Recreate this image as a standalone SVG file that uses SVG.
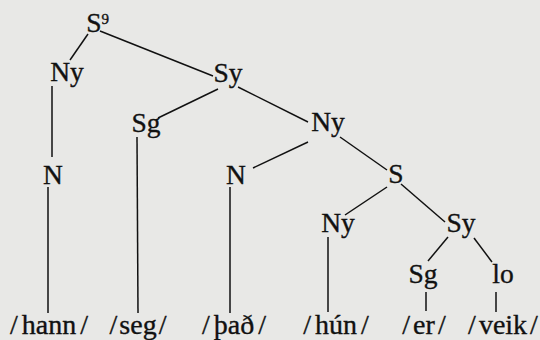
<svg xmlns="http://www.w3.org/2000/svg" width="540" height="340" viewBox="0 0 540 340">
<style>
.n,.w,.sup{font-family:"Liberation Serif","Times New Roman",serif;fill:#111;stroke:#111;stroke-width:0.35}
.n{font-size:27.5px;text-anchor:middle}
.w{font-size:28px;text-anchor:middle}
.sup{font-size:15px}
#edges line{stroke:#111;stroke-width:1.5}
</style>
<rect width="540" height="340" fill="#e8e8e6"/>
<g id="edges">
<line x1="88" y1="34" x2="70" y2="60"/>
<line x1="100" y1="31" x2="213" y2="76"/>
<line x1="52" y1="86" x2="52" y2="157"/>
<line x1="48" y1="187" x2="48" y2="313"/>
<line x1="218" y1="89" x2="158" y2="118"/>
<line x1="238" y1="87" x2="308" y2="122"/>
<line x1="137" y1="137" x2="138" y2="313"/>
<line x1="308" y1="142" x2="253" y2="168"/>
<line x1="340" y1="137" x2="387" y2="170"/>
<line x1="230" y1="187" x2="230" y2="313"/>
<line x1="387" y1="187" x2="345" y2="215"/>
<line x1="401" y1="184" x2="445" y2="222"/>
<line x1="328" y1="237" x2="328" y2="312"/>
<line x1="448" y1="237" x2="428" y2="261"/>
<line x1="474" y1="238" x2="492" y2="262"/>
<line x1="426" y1="292" x2="426" y2="311"/>
<line x1="496" y1="292" x2="496" y2="312"/>
</g>
<g id="S9"><text class="n" x="94" y="32">S</text><text class="sup" x="101.5" y="24">9</text></g>
<g id="Ny1"><text class="n" x="67" y="81">Ny</text></g>
<g id="Sy1"><text class="n" x="228" y="82">Sy</text></g>
<g id="Sg1"><text class="n" x="146" y="132">Sg</text></g>
<g id="Ny2"><text class="n" x="328" y="131">Ny</text></g>
<g id="N1"><text class="n" x="53" y="184">N</text></g>
<g id="N2"><text class="n" x="236" y="184">N</text></g>
<g id="S2"><text class="n" x="396" y="183">S</text></g>
<g id="Ny3"><text class="n" x="338" y="232">Ny</text></g>
<g id="Sy2"><text class="n" x="461" y="232">Sy</text></g>
<g id="Sg2"><text class="n" x="423" y="283">Sg</text></g>
<g id="lo"><text class="n" x="503" y="283">lo</text></g>
<g id="w1"><text class="w" x="49" y="334">/<tspan dx="4">hann</tspan><tspan dx="4">/</tspan></text></g>
<g id="w2"><text class="w" x="138" y="334">/<tspan dx="2">seg</tspan><tspan dx="2">/</tspan></text></g>
<g id="w3"><text class="w" x="234" y="334">/<tspan dx="4">það</tspan><tspan dx="4">/</tspan></text></g>
<g id="w4"><text class="w" x="336" y="334">/<tspan dx="4">hún</tspan><tspan dx="4">/</tspan></text></g>
<g id="w5"><text class="w" x="424" y="334">/<tspan dx="3">er</tspan><tspan dx="3">/</tspan></text></g>
<g id="w6"><text class="w" x="503" y="334">/<tspan dx="3">veik</tspan><tspan dx="3">/</tspan></text></g>
</svg>
